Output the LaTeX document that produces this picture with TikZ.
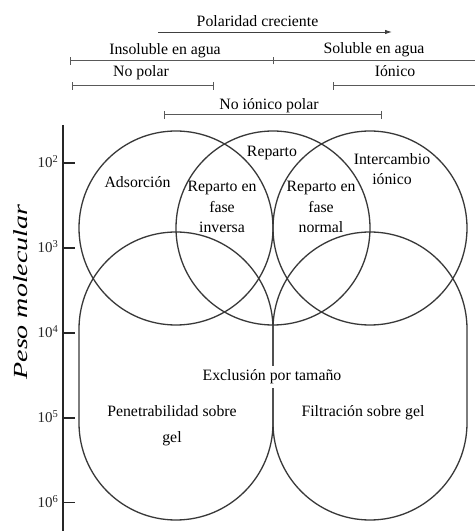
\documentclass[tikz,border=0pt]{standalone}
\usepackage{fontspec}
\usepackage{graphicx}
\setmainfont{Liberation Serif}
\usetikzlibrary{arrows.meta}
\begin{document}
\begin{tikzpicture}[x=1pt,y=1pt,
  lbl/.style={font=\fontsize{15.8}{19}\selectfont, inner sep=0pt, anchor=base, text=black},
  region/.style={draw=black!78, line width=1.3pt},
  spanline/.style={draw=black!65, line width=1pt},
  barend/.style={draw=black!65, line width=1pt},
  axisline/.style={draw=black!85, line width=2pt},
  tickmark/.style={draw=black!85, line width=1.2pt},
  ticklbl/.style={font=\fontsize{15}{17}\selectfont, inner sep=0pt, anchor=base east, text=black!85},
]
\useasboundingbox (0,0) rectangle (475,531);

% ---------- polarity scale ----------
\coordinate (pa) at (158,499);
\coordinate (pb) at (392,499);
\draw[draw=black!75, line width=0.9pt, -{Latex[length=7pt,width=4.5pt]}] (pa) -- (pb);
\node[lbl] (pol) at (257.5,504) {Polaridad creciente};

\coordinate (w1) at (70,470);
\coordinate (wm) at (273,470);
\coordinate (w2) at (475,470);
\draw[spanline, {Bar[width=8pt]}-] (w1) -- (w2);
\draw[barend] ([yshift=-3.5pt]wm) -- ([yshift=3.5pt]wm);
\node[lbl] (insol) at (165,476) {Insoluble en agua};
\node[lbl] (sol) at (374,477) {Soluble en agua};

\coordinate (np1) at (72,445);
\coordinate (np2) at (214,445);
\draw[spanline, {Bar[width=8pt]}-{Bar[width=8pt]}] (np1) -- (np2);
\node[lbl] (nopol) at (141,454) {No polar};

\coordinate (io1) at (333,445);
\coordinate (io2) at (475,445);
\draw[spanline, {Bar[width=8pt]}-] (io1) -- (io2);
\node[lbl] (ionico) at (395,454) {Iónico};

\coordinate (ni1) at (164,416);
\coordinate (ni2) at (382,416);
\draw[spanline, {Bar[width=8pt]}-{Bar[width=8pt]}] (ni1) -- (ni2);
\node[lbl] (noion) at (269,421) {No iónico polar};

% ---------- molecular weight axis ----------
\coordinate (ax1) at (63,406);
\coordinate (ax0) at (63,0);
\draw[axisline] (ax1) -- (ax0);
\foreach \e/\yy in {2/368,3/283,4/198,5/113,6/28.5}{
  \coordinate (t\e) at (63,\yy);
  \draw[tickmark] (t\e) -- ++(12,0);
  \node[ticklbl] (tl\e) at (58.5,\yy-5) {10\textsuperscript{\e}};
}
\node[rotate=90, inner sep=0pt, text=black] (ylab) at (21,239)
  {\scalebox{1.4}[1]{\fontsize{20}{24}\selectfont\itshape Peso molecular}};

% ---------- upper circles ----------
\draw[region] (176,303) circle[radius=97];
\draw[region] (273,303) circle[radius=97];
\draw[region] (370,303) circle[radius=97];

% ---------- lower rounded regions ----------
\draw[region] (79,202) arc[start angle=180, end angle=0, radius=97]
  -- (273,108) arc[start angle=0, end angle=-180, radius=97] -- cycle;
\draw[region] (273,202) arc[start angle=180, end angle=0, radius=97]
  -- (467,108) arc[start angle=0, end angle=-180, radius=97] -- cycle;

% ---------- region labels ----------
\node[lbl] (ads) at (137.5,343) {Adsorción};
\node[lbl] (rep) at (272,374) {Reparto};
\node[lbl] (ri1) at (222,339) {Reparto en};
\node[lbl] (ri2) at (222,318.5) {fase};
\node[lbl] (ri3) at (222,298) {inversa};
\node[lbl] (rn1) at (321,339) {Reparto en};
\node[lbl] (rn2) at (321,318.5) {fase};
\node[lbl] (rn3) at (321,298) {normal};
\node[lbl] (ic1) at (392,366) {Intercambio};
\node[lbl] (ic2) at (392,346) {iónico};
\node[lbl, fill=white, inner xsep=3pt, inner ysep=4pt] (excl) at (272,150) {Exclusión por tamaño};
\node[lbl] (pen1) at (172,114) {Penetrabilidad sobre};
\node[lbl] (pen2) at (172,88.5) {gel};
\node[lbl] (fil) at (363,114) {Filtración sobre gel};
\end{tikzpicture}
\end{document}
